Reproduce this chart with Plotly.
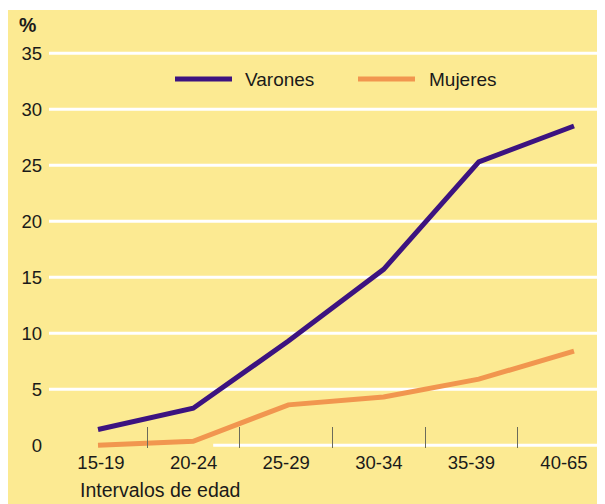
import plotly.graph_objects as go

categories = ["15-19", "20-24", "25-29", "30-34", "35-39", "40-65"]
series_names = ["Varones", "Mujeres"]
varones = [1.4, 3.3, 9.3, 15.7, 25.3, 28.5]
mujeres = [0.0, 0.35, 3.6, 4.3, 5.9, 8.4]
y_ticks = [0, 5, 10, 15, 20, 25, 30, 35]
colors = ["#3c1380", "#f1964f"]

FONT = "Liberation Sans, Arial, Helvetica, sans-serif"
YELLOW = "#fcea92"

# page offset from default body margin
OFF = 8
PAGE_W, PAGE_H = 605, 504
W, H = PAGE_W - OFF, PAGE_H - OFF
# plot area in page pixels: x 49..605, y 35..448
PL, PT, PB = 49, 35, 448
L, R, T, B = PL - OFF, 0, PT - OFF, PAGE_H - PB
pw, ph = PAGE_W - PL, PB - PT
Y0 = -0.25
Y1 = Y0 + ph / 11.2

def px(x):
    return (x - PL) / pw

def py(y):
    return (PB - y) / ph

idx = list(range(len(categories)))

fig = go.Figure()
for name, vals, col in zip(series_names, [varones, mujeres], colors):
    fig.add_trace(go.Scatter(
        x=idx, y=vals, mode="lines", name=name,
        line=dict(color=col, width=5), cliponaxis=False,
        showlegend=False, xaxis="x", yaxis="y",
    ))

shapes = [
    dict(type="rect", xref="paper", yref="paper", x0=px(6), x1=px(PAGE_W + 5),
         y0=py(PAGE_H + 5), y1=py(10), fillcolor=YELLOW, line=dict(width=0), layer="below"),
]
for v in y_ticks:
    if v == 0:
        shapes.append(dict(type="line", xref="x", yref="y", x0=1.21, x1=6,
                           y0=v, y1=v, line=dict(color="white", width=3), layer="below"))
    else:
        shapes.append(dict(type="line", xref="paper", yref="y", x0=0, x1=1,
                           y0=v, y1=v, line=dict(color="white", width=3), layer="below"))

# legend (manual)
leg = [(175, 232, 243), (358, 415, 427)]
annotations = []
for (a, b, t), name, col in zip(leg, series_names, colors):
    shapes.append(dict(type="line", xref="paper", yref="paper", x0=px(a), x1=px(b),
                       y0=py(79), y1=py(79), line=dict(color=col, width=5)))
    annotations.append(dict(text=name, xref="paper", yref="paper", x=px(t), y=py(79),
                            xanchor="left", yanchor="middle", showarrow=False,
                            font=dict(size=19, color="#1a1a1a", family=FONT)))

annotations.append(dict(text="<b>%</b>", xref="paper", yref="paper", x=px(17), y=py(25),
                        xanchor="left", yanchor="middle", showarrow=False,
                        font=dict(size=19.5, color="#1a1a1a", family=FONT)))
annotations.append(dict(text="Intervalos de edad", xref="paper", yref="paper", x=px(78), y=py(490),
                        xanchor="left", yanchor="middle", showarrow=False,
                        font=dict(size=19.5, color="#1a1a1a", family=FONT)))

fig.update_layout(
    width=W, height=H,
    margin=dict(l=L, r=R, t=T, b=B, pad=0),
    paper_bgcolor="white",
    plot_bgcolor="rgba(0,0,0,0)",
    font=dict(family=FONT, size=19, color="#1a1a1a"),
    xaxis=dict(visible=False, range=[-0.5147, 5.3256], fixedrange=True),
    xaxis2=dict(
        overlaying="x", anchor="y", side="bottom",
        range=[-0.5616, 5.4428],
        tickmode="array", tickvals=idx, ticktext=categories,
        ticks="", showgrid=False, zeroline=False, showline=False,
        tickfont=dict(size=18.5, color="#1a1a1a", family=FONT),
        minor=dict(tickmode="array", tickvals=[i + 0.5 for i in idx[:-1]],
                   ticks="inside", ticklen=21, tickwidth=1, tickcolor="#6b6b5a",
                   showgrid=False),
        ticklabelstandoff=1,
    ),
    yaxis=dict(
        range=[Y0, Y1], tickmode="array", tickvals=y_ticks,
        ticktext=[str(v) for v in y_ticks],
        showgrid=False, zeroline=False, showline=False, ticks="",
        tickfont=dict(size=18.5, color="#1a1a1a", family=FONT),
        ticklabelstandoff=6,
    ),
    shapes=shapes,
    annotations=annotations,
    showlegend=False,
)
# empty trace to activate the label axis
fig.add_trace(go.Scatter(x=[None], y=[None], xaxis="x2", yaxis="y", showlegend=False,
                         hoverinfo="skip"))

fig.write_html("out.html")
